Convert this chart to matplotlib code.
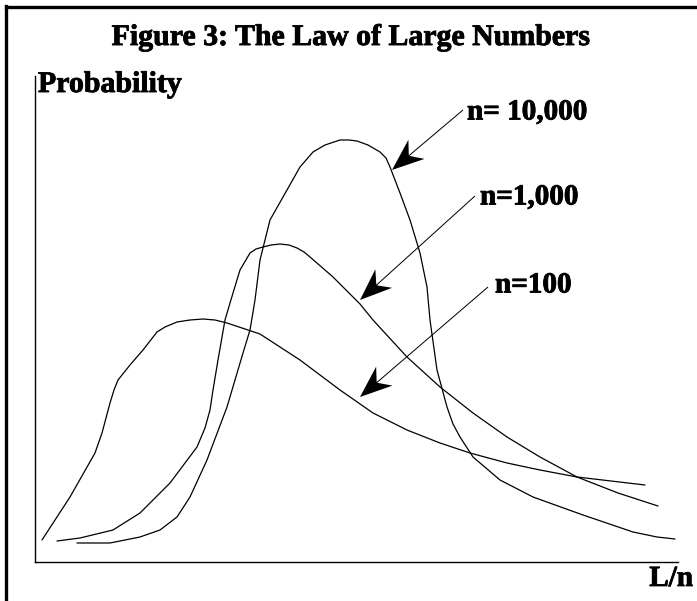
import matplotlib
matplotlib.use("Agg")
import matplotlib.pyplot as plt
import matplotlib.patheffects as pe
from matplotlib.lines import Line2D

plt.rcParams['font.family'] = ['Liberation Serif', 'DejaVu Serif']

# curves: L/n (x) vs probability (y), arbitrary units
x_100 = [7, 35, 60, 67, 75, 79, 83, 95, 108, 122, 130, 142, 155, 168, 180, 192,
         225, 265, 305, 338, 372, 405, 435, 472, 505, 542, 610]
y_100 = [22, 65, 109, 129, 159, 172, 182, 197, 212, 230, 235, 240, 242, 243, 242, 239,
         228, 202, 172, 149, 132, 119, 109, 99, 92, 85, 77]

x_1000 = [22, 45, 78, 105, 135, 162, 170, 175, 178, 183, 190, 198, 205, 215, 221,
          228, 236, 245, 254, 262, 269, 275, 298, 325, 338, 372, 405, 438, 472,
          505, 542, 583, 623]
y_1000 = [21, 24, 32, 49, 79, 115, 134, 152, 172, 202, 242, 269, 292, 309, 313,
          315, 317, 318, 317, 314, 310, 305, 285, 258, 242, 205, 175, 149, 125,
          105, 85, 69, 56]

x_10000 = [42, 75, 105, 125, 142, 155, 172, 192, 208, 215, 220, 225, 235, 248, 265,
           278, 290, 305, 314, 322, 333, 345, 351, 355, 365, 375, 385, 392, 395,
           402, 412, 418, 425, 438, 465, 498, 548, 598, 622, 640]
y_10000 = [19, 19, 25, 32, 45, 65, 102, 155, 209, 232, 262, 302, 342, 365, 395,
           410, 417, 422, 422, 421, 417, 410, 404, 395, 369, 342, 309, 275, 242,
           192, 155, 138, 125, 105, 82, 65, 47, 30, 25, 23]

labels = ['n= 10,000', 'n=1,000', 'n=100']
arrow_tails = [(428, 452), (440, 366), (453, 275)]
arrow_tips = [(357, 392), (325, 262), (325, 165)]
label_pos = [(432, 450), (445, 365), (460, 277)]

heavy = [pe.withStroke(linewidth=0.6, foreground='black')]

fig = plt.figure(figsize=(6.97, 6.01), dpi=100)
ax = fig.add_axes([35 / 697, 39 / 601, 643 / 697, 486 / 601])
ax.set_xlim(0, 643)
ax.set_ylim(0, 486)
for side in ['top', 'right']:
    ax.spines[side].set_visible(False)
for side in ['left', 'bottom']:
    ax.spines[side].set_linewidth(1.0)
ax.set_xticks([])
ax.set_yticks([])

for xs, ys in [(x_100, y_100), (x_1000, y_1000), (x_10000, y_10000)]:
    ax.plot(xs, ys, color='black', lw=0.9, solid_joinstyle='round',
            solid_capstyle='round', clip_on=False)

for lab, tail, tip, pos in zip(labels, arrow_tails, arrow_tips, label_pos):
    ax.arrow(tail[0], tail[1], tip[0] - tail[0], tip[1] - tail[1],
             width=1.0, head_width=25, head_length=32, overhang=0.3,
             length_includes_head=True, color='black', lw=0, clip_on=False)
    ax.text(pos[0], pos[1], lab, fontsize=21, fontweight='bold',
            ha='left', va='center', path_effects=heavy)

fig.text(0.5036, 0.9251, 'Figure 3: The Law of Large Numbers', fontsize=21.5,
         fontweight='bold', ha='center', va='baseline', path_effects=heavy)
fig.text(0.0545, 0.8469, 'Probability', fontsize=21.5, fontweight='bold',
         ha='left', va='baseline', path_effects=heavy)
fig.text(0.9943, 0.025, 'L/n', fontsize=21, fontweight='bold',
         ha='right', va='baseline', path_effects=heavy)

# frame lines on the left and top edges
fig.add_artist(Line2D([5.5 / 697, 5.5 / 697], [0, 1 - 5.5 / 601],
                      color='black', lw=2.4, solid_capstyle='projecting'))
fig.add_artist(Line2D([5.5 / 697, 1], [1 - 6.5 / 601, 1 - 6.5 / 601],
                      color='black', lw=2.4, solid_capstyle='projecting'))

fig.savefig('out.png', dpi=100)
